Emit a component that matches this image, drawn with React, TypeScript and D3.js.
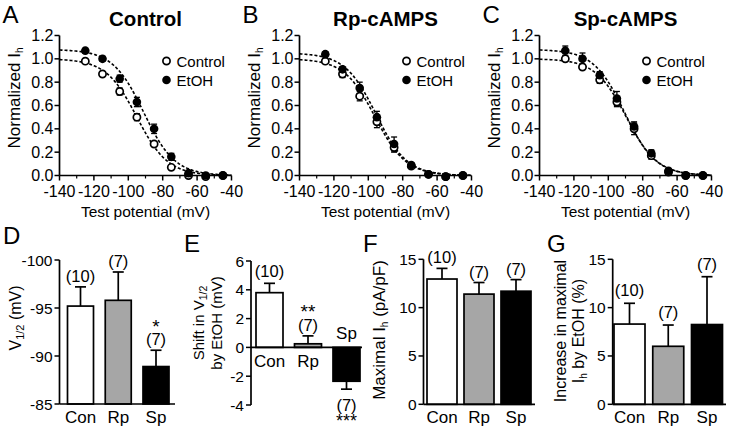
import React from "react";
import * as d3 from "d3";

const FONT = "'Liberation Sans', Arial, Helvetica, sans-serif";

// ---------- Top panels data ----------
const voltages = [-125, -115, -105, -95, -85, -75, -65, -55, -45];
const xTicks = [-140, -120, -100, -80, -60, -40];
const xMinorTicks = [-130, -110, -90, -70, -50];
const yTicksTop = [0, 0.2, 0.4, 0.6, 0.8, 1.0, 1.2];

const ctrlA = [0.98, 0.87, 0.72, 0.5, 0.27, 0.07, 0.0, -0.01, 0.0];
const ctrlAErr = [0.01, 0.02, 0.03, 0.03, 0.02, 0.01, 0.01, 0, 0];
const etohA = [1.07, 1.0, 0.83, 0.63, 0.4, 0.16, 0.02, 0.0, 0.0];
const etohAErr = [0.02, 0.02, 0.03, 0.04, 0.04, 0.03, 0.01, 0, 0];

const ctrlB = [0.98, 0.87, 0.68, 0.46, 0.24, 0.08, 0.01, -0.01, 0.0];
const ctrlBErr = [0.02, 0.03, 0.04, 0.05, 0.04, 0.02, 0.01, 0, 0];
const etohB = [1.04, 0.91, 0.75, 0.5, 0.27, 0.09, 0.01, -0.01, 0.0];
const etohBErr = [0.02, 0.02, 0.05, 0.05, 0.06, 0.02, 0.01, 0, 0];

const ctrlC = [1.0, 0.93, 0.82, 0.63, 0.4, 0.17, 0.03, 0.0, 0.0];
const ctrlCErr = [0.02, 0.02, 0.03, 0.04, 0.05, 0.03, 0.02, 0, 0];
const etohC = [1.07, 1.0, 0.86, 0.66, 0.42, 0.19, 0.04, 0.0, 0.0];
const etohCErr = [0.04, 0.05, 0.03, 0.06, 0.04, 0.03, 0.01, 0, 0];

// Boltzmann fit parameters [amplitude, V1/2, slope]
const fitCtrlA = [1.0, -95, 9];
const fitEtohA = [1.08, -91, 9];
const fitCtrlB = [1.0, -96, 9];
const fitEtohB = [1.05, -95.5, 9];
const fitCtrlC = [1.0, -89.5, 9];
const fitEtohC = [1.08, -90.5, 9];

// ---------- Bottom panels data ----------
const groups = ["Con", "Rp", "Sp"];
const barFills = ["#ffffff", "#a6a6a6", "#000000"];

const v12Values = [-95.2, -95.8, -88.9];
const v12Err = [2.0, 2.95, 1.7];
const v12N = ["(10)", "(7)", "(7)"];
const v12Ticks = [-100, -95, -90, -85];

const shiftValues = [3.8, 0.25, -2.35];
const shiftErr = [0.65, 0.55, 0.55];
const shiftTicks = [-4, -2, 0, 2, 4, 6];

const maxValues = [12.96, 11.4, 11.7];
const maxErr = [1.1, 1.2, 1.2];
const maxN = ["(10)", "(7)", "(7)"];
const maxTicks = [0, 5, 10, 15];

const incValues = [8.3, 6.0, 8.25];
const incErr = [2.15, 2.2, 4.95];
const incN = ["(10)", "(7)", "(7)"];
const incTicks = [0, 5, 10, 15];

const boltz = (p: number[], v: number) => p[0] / (1 + Math.exp((v - p[1]) / p[2]));

const TICK_FS = 16;
const LAB_FS = 16.5;

type TopProps = {
  ax: number;
  letter: string;
  title: string;
  ctrl: number[];
  ctrlErr: number[];
  etoh: number[];
  etohErr: number[];
  fitC: number[];
  fitE: number[];
};

function ErrBar({ x, y1, y2, w = 3 }: { x: number; y1: number; y2: number; w?: number }) {
  return (
    <g stroke="#000" strokeWidth={1.3}>
      <line x1={x} x2={x} y1={y1} y2={y2} />
      <line x1={x - w} x2={x + w} y1={y1} y2={y1} />
      <line x1={x - w} x2={x + w} y1={y2} y2={y2} />
    </g>
  );
}

function TopPanel({ ax, letter, title, ctrl, ctrlErr, etoh, etohErr, fitC, fitE }: TopProps) {
  const x = d3.scaleLinear().domain([-140, -40]).range([ax, ax + 172]);
  const y = d3.scaleLinear().domain([0, 1.2]).range([175.5, 35.5]);
  const fitVs = d3.range(-140, -39.5, 0.5);
  const mk = (p: number[]) =>
    d3
      .line<number>()
      .x((v) => x(v))
      .y((v) => y(boltz(p, v)))(fitVs) || "";
  const y0 = y(0);
  return (
    <g fontFamily={FONT}>
      <text x={ax - 57} y={23} fontSize={24}>{letter}</text>
      <text x={ax + 86} y={26} fontSize={20.5} fontWeight="bold" textAnchor="middle">{title}</text>
      <path d={mk(fitC)} fill="none" stroke="#000" strokeWidth={1.6} strokeDasharray="3,2" />
      <path d={mk(fitE)} fill="none" stroke="#000" strokeWidth={1.6} strokeDasharray="3,2" />
      {voltages.map((v, i) => (
        <g key={"eb" + i}>
          {ctrlErr[i] > 0.015 && <ErrBar x={x(v)} y1={y(ctrl[i] - ctrlErr[i])} y2={y(ctrl[i] + ctrlErr[i])} />}
          {etohErr[i] > 0.015 && <ErrBar x={x(v)} y1={y(etoh[i] - etohErr[i])} y2={y(etoh[i] + etohErr[i])} />}
        </g>
      ))}
      {voltages.map((v, i) => (
        <circle key={"c" + i} cx={x(v)} cy={y(ctrl[i])} r={3.6} fill="#fff" stroke="#000" strokeWidth={1.7} />
      ))}
      {voltages.map((v, i) => (
        <circle key={"e" + i} cx={x(v)} cy={y(etoh[i])} r={4.3} fill="#000" />
      ))}
      <line x1={ax} x2={ax} y1={y(1.2)} y2={y0} stroke="#000" strokeWidth={1.7} />
      <line x1={ax} x2={x(-40)} y1={y0} y2={y0} stroke="#000" strokeWidth={1.7} />
      {yTicksTop.map((t) => (
        <g key={"yt" + t}>
          <line x1={ax - 5} x2={ax} y1={y(t)} y2={y(t)} stroke="#000" strokeWidth={1.5} />
          <text x={ax - 6} y={y(t) + 5.5} fontSize={TICK_FS} textAnchor="end">{t.toFixed(1)}</text>
        </g>
      ))}
      {xTicks.map((t) => (
        <g key={"xt" + t}>
          <line x1={x(t)} x2={x(t)} y1={y0} y2={y0 + 5} stroke="#000" strokeWidth={1.5} />
          <text x={x(t)} y={197} fontSize={TICK_FS} textAnchor="middle">{t}</text>
        </g>
      ))}
      {xMinorTicks.map((t) => (
        <line key={"xm" + t} x1={x(t)} x2={x(t)} y1={y0} y2={y0 + 3} stroke="#000" strokeWidth={1.2} />
      ))}
      <text x={ax + 86} y={217} fontSize={15.5} textAnchor="middle">Test potential (mV)</text>
      <text transform={`translate(${ax - 40},${98}) rotate(-90)`} fontSize={17} textAnchor="middle">
        Normalized I<tspan fontSize={10} dy={3}>h</tspan>
      </text>
      <circle cx={ax + 107} cy={61} r={3.6} fill="#fff" stroke="#000" strokeWidth={1.7} />
      <text x={ax + 117} y={66.5} fontSize={15}>Control</text>
      <circle cx={ax + 107} cy={80} r={4.3} fill="#000" />
      <text x={ax + 117} y={85.5} fontSize={15}>EtOH</text>
    </g>
  );
}

type BarProps = {
  ax: number;
  xEnd: number;
  centers: [number, number];
  barW: number;
  domain: [number, number];
  range: [number, number];
  base: number;
  values: number[];
  errs: number[];
  ticks: number[];
};

function scalesFor({ centers, domain, range }: BarProps) {
  const x = d3.scalePoint<string>().domain(groups).range(centers);
  const y = d3.scaleLinear().domain(domain).range(range);
  return { x, y };
}

function Bars(props: BarProps & { labels?: boolean }) {
  const { ax, xEnd, barW, base, values, errs, ticks } = props;
  const { x, y } = scalesFor(props);
  const yb = y(base);
  return (
    <g fontFamily={FONT}>
      {groups.map((g, i) => {
        const cx = x(g) as number;
        const v = values[i];
        const top = Math.min(y(v), yb);
        const h = Math.abs(y(v) - yb);
        const away = y(v) < yb ? -1 : 1;
        const errEnd = y(v) + away * Math.abs(y(v + errs[i]) - y(v));
        return (
          <g key={g}>
            <line x1={cx} x2={cx} y1={y(v)} y2={errEnd} stroke="#000" strokeWidth={1.7} />
            <line x1={cx - 5.5} x2={cx + 5.5} y1={errEnd} y2={errEnd} stroke="#000" strokeWidth={1.7} />
            <rect x={cx - barW / 2} y={top} width={barW} height={h} fill={barFills[i]} stroke="#000" strokeWidth={1.7} />
          </g>
        );
      })}
      <line x1={ax} x2={ax} y1={y(ticks[ticks.length - 1])} y2={y(ticks[0])} stroke="#000" strokeWidth={1.7} />
      <line x1={ax} x2={xEnd} y1={yb} y2={yb} stroke="#000" strokeWidth={1.7} />
      {ticks.map((t) => (
        <g key={t}>
          <line x1={ax - 5} x2={ax} y1={y(t)} y2={y(t)} stroke="#000" strokeWidth={1.5} />
          <text x={ax - 7} y={y(t) + 5.5} fontSize={15.5} textAnchor="end">{t}</text>
        </g>
      ))}
      {props.labels !== false &&
        groups.map((g) => (
          <text key={"l" + g} x={x(g) as number} y={423} fontSize={17} textAnchor="middle">{g}</text>
        ))}
    </g>
  );
}

export default function App() {
  const dProps: BarProps = {
    ax: 59.5, xEnd: 175, centers: [80.5, 156], barW: 26, domain: [-85, -100], range: [404, 260],
    base: -85, values: v12Values, errs: v12Err, ticks: v12Ticks,
  };
  const dS = scalesFor(dProps);
  const eProps: BarProps = {
    ax: 251, xEnd: 362, centers: [269.5, 346.5], barW: 27, domain: [-4, 6], range: [405, 261],
    base: 0, values: shiftValues, errs: shiftErr, ticks: shiftTicks,
  };
  const eS = scalesFor(eProps);
  const fProps: BarProps = {
    ax: 423.5, xEnd: 535, centers: [442, 516], barW: 30, domain: [0, 15], range: [404.3, 259.3],
    base: 0, values: maxValues, errs: maxErr, ticks: maxTicks,
  };
  const fS = scalesFor(fProps);
  const gProps: BarProps = {
    ax: 612.7, xEnd: 726, centers: [629.5, 707], barW: 31, domain: [0, 15], range: [404.3, 259.3],
    base: 0, values: incValues, errs: incErr, ticks: incTicks,
  };
  const gS = scalesFor(gProps);

  const dSpX = dS.x("Sp") as number;
  const eRpX = eS.x("Rp") as number;
  const eSpX = eS.x("Sp") as number;

  return (
    <svg width={732} height={431} style={{ position: "absolute", left: 0, top: 0, background: "#fff" }}>
      <rect width={732} height={431} fill="#fff" />
      <TopPanel ax={59.5} letter="A" title="Control" ctrl={ctrlA} ctrlErr={ctrlAErr} etoh={etohA} etohErr={etohAErr} fitC={fitCtrlA} fitE={fitEtohA} />
      <TopPanel ax={299.5} letter="B" title="Rp-cAMPS" ctrl={ctrlB} ctrlErr={ctrlBErr} etoh={etohB} etohErr={etohBErr} fitC={fitCtrlB} fitE={fitEtohB} />
      <TopPanel ax={539.5} letter="C" title="Sp-cAMPS" ctrl={ctrlC} ctrlErr={ctrlCErr} etoh={etohC} etohErr={etohCErr} fitC={fitCtrlC} fitE={fitEtohC} />

      <g fontFamily={FONT}>
        {/* D */}
        <text x={3} y={244} fontSize={24}>D</text>
        <Bars {...dProps} />
        {groups.map((g, i) =>
          g === "Sp" ? (
            <text key={"dn" + g} x={dSpX} y={dS.y(v12Values[i] - v12Err[i]) - 17} fontSize={19} textAnchor="middle">
              *
              <tspan x={dSpX} dy={12} fontSize={LAB_FS}>{v12N[i]}</tspan>
            </text>
          ) : (
            <text key={"dn" + g} x={dS.x(g) as number} y={dS.y(v12Values[i] - v12Err[i]) - 5} fontSize={LAB_FS} textAnchor="middle">{v12N[i]}</text>
          )
        )}
        <text transform="translate(21,318) rotate(-90)" fontSize={16} textAnchor="middle">
          V<tspan fontSize={11} dy={3}>1/2</tspan><tspan dy={-3}> (mV)</tspan>
        </text>

        {/* E */}
        <text x={184} y={252} fontSize={24}>E</text>
        <Bars {...eProps} labels={false} />
        <text x={eS.x("Con") as number} y={eS.y(shiftValues[0] + shiftErr[0]) - 6} fontSize={LAB_FS} textAnchor="middle">(10)</text>
        <text x={eRpX} y={318} fontSize={19} textAnchor="middle">
          **
          <tspan x={eRpX} dy={13} fontSize={LAB_FS}>(7)</tspan>
        </text>
        <text x={eS.x("Con") as number} y={eS.y(0) + 20} fontSize={17} textAnchor="middle">Con</text>
        <text x={eS.x("Rp") as number} y={eS.y(0) + 20} fontSize={17} textAnchor="middle">Rp</text>
        <text x={eSpX} y={eS.y(0) - 8} fontSize={17} textAnchor="middle">Sp</text>
        <text x={eSpX} y={411} fontSize={LAB_FS} textAnchor="middle">
          (7)
          <tspan x={eSpX} dy={16} fontSize={18}>***</tspan>
        </text>
        <text transform="translate(204,323) rotate(-90)" fontSize={15} textAnchor="middle">
          Shift in V<tspan fontSize={10.5} dy={3}>1/2</tspan>
        </text>
        <text transform="translate(222,323) rotate(-90)" fontSize={15} textAnchor="middle">by EtOH (mV)</text>

        {/* F */}
        <text x={363} y={252} fontSize={24}>F</text>
        <Bars {...fProps} />
        {groups.map((g, i) => (
          <text key={"fn" + g} x={fS.x(g) as number} y={fS.y(maxValues[i] + maxErr[i]) - 5} fontSize={LAB_FS} textAnchor="middle">{maxN[i]}</text>
        ))}
        <text transform="translate(385,330) rotate(-90)" fontSize={17} textAnchor="middle">
          Maximal I<tspan fontSize={10} dy={3}>h</tspan><tspan dy={-3}> (pA/pF)</tspan>
        </text>

        {/* G */}
        <text x={547} y={252} fontSize={24}>G</text>
        <Bars {...gProps} />
        {groups.map((g, i) => (
          <text key={"gn" + g} x={gS.x(g) as number} y={gS.y(incValues[i] + incErr[i]) - 7} fontSize={LAB_FS} textAnchor="middle">{incN[i]}</text>
        ))}
        <text transform="translate(566,331) rotate(-90)" fontSize={16} textAnchor="middle">Increase in maximal</text>
        <text transform="translate(584,331) rotate(-90)" fontSize={16} textAnchor="middle">
          I<tspan fontSize={10} dy={3}>h</tspan><tspan dy={-3}> by EtOH (%)</tspan>
        </text>
      </g>
    </svg>
  );
}
